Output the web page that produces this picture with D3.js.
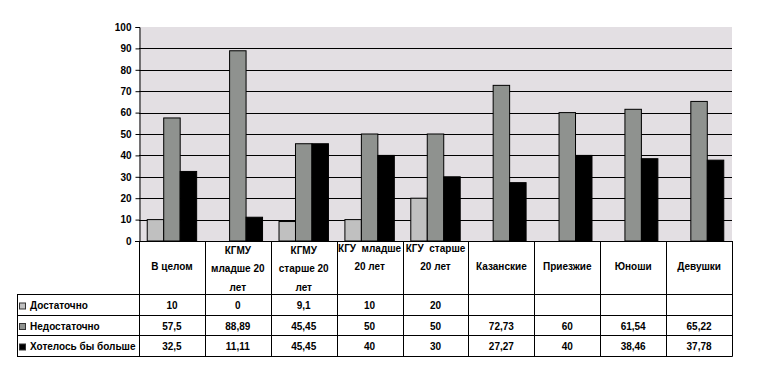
<!DOCTYPE html>
<html>
<head>
<meta charset="utf-8">
<script src="https://cdn.jsdelivr.net/npm/d3@7"></script>
<style>
  body { margin: 0; background: #fff; }
  text { font-family: "Liberation Sans", Arial, sans-serif; font-size: 10px; font-weight: bold; fill: #000; white-space: pre; }
</style>
</head>
<body>
<svg id="chart" width="761" height="366"></svg>
<script>
// categories (table header, split by line)
const categories = [
  ["В целом"],
  ["КГМУ", "младше 20", "лет"],
  ["КГМУ", "старше 20", "лет"],
  ["КГУ  младше", "20 лет"],
  ["КГУ  старше", "20 лет"],
  ["Казанские"],
  ["Приезжие"],
  ["Юноши"],
  ["Девушки"]
];

const seriesNames = ["Достаточно", "Недостаточно", "Хотелось бы больше"];
const seriesColors = ["#c0c0c0", "#8f928f", "#000000"];

const enough = [10, 0, 9.1, 10, 20, null, null, null, null];
const notEnough = [57.5, 88.89, 45.45, 50, 50, 72.73, 60, 61.54, 65.22];
const wantMore = [32.5, 11.11, 45.45, 40, 30, 27.27, 40, 38.46, 37.78];

const yTicks = [0, 10, 20, 30, 40, 50, 60, 70, 80, 90, 100];

const series = [enough, notEnough, wantMore];

const svg = d3.select('#chart');
const margin = { left: 139, right: 29, top: 27, plotBottom: 241 };
const width = 761;

const xScale = d3.scaleBand()
  .domain(d3.range(categories.length))
  .range([margin.left, width - margin.right]);

const yScale = d3.scaleLinear()
  .domain([0, 100])
  .range([margin.plotBottom, margin.top]);

// plot background
svg.append('rect')
  .attr('x', margin.left)
  .attr('y', margin.top)
  .attr('width', xScale.range()[1] - margin.left)
  .attr('height', margin.plotBottom - margin.top)
  .style('fill', '#e3dfe3');

// gridlines
svg.append('g')
  .selectAll('line')
  .data(yTicks.filter(d => d > 0 && d < 100))
  .enter().append('line')
  .attr('x1', margin.left)
  .attr('x2', xScale.range()[1])
  .attr('y1', d => Math.round(yScale(d)) + 0.5)
  .attr('y2', d => Math.round(yScale(d)) + 0.5)
  .style('stroke', '#000')
  .style('stroke-width', 1);

// bars (gap width = one bar, three bars per group)
const barW = xScale.bandwidth() / 4;
series.forEach((vals, si) => {
  svg.append('g')
    .selectAll('rect')
    .data(vals.map((v, i) => ({ v: v, i: i })).filter(d => d.v !== null && d.v > 0))
    .enter().append('rect')
    .attr('x', d => xScale(d.i) + barW / 2 + si * barW)
    .attr('y', d => yScale(d.v))
    .attr('width', barW)
    .attr('height', d => yScale(0) - yScale(d.v))
    .style('fill', seriesColors[si])
    .style('stroke', '#000')
    .style('stroke-width', 1);
});

// y axis
const yAxis = d3.axisLeft(yScale)
  .tickValues(yTicks)
  .tickSize(4)
  .tickPadding(4)
  .tickFormat(d3.format('d'));

const yg = svg.append('g')
  .attr('transform', `translate(${margin.left + 0.5},0)`)
  .call(yAxis);
yg.select('.domain').style('stroke', '#000');
yg.selectAll('.tick line').style('stroke', '#000');
yg.selectAll('.tick text')
  .style('font-family', '"Liberation Sans", Arial, sans-serif')
  .style('font-size', '10px')
  .style('font-weight', 'bold');

// x axis line (top of table)
svg.append('line')
  .attr('x1', margin.left - 4)
  .attr('x2', xScale.range()[1])
  .attr('y1', margin.plotBottom + 0.5)
  .attr('y2', margin.plotBottom + 0.5)
  .style('stroke', '#000');

// data table
const rowTop = [294, 315, 335, 356];
const tableLeft = 17;
const tableRight = xScale.range()[1];
const tbl = svg.append('g').style('stroke', '#000').style('stroke-width', 1);

// vertical lines of the category columns
tbl.selectAll('.vline')
  .data(d3.range(categories.length + 1))
  .enter().append('line')
  .attr('x1', d => Math.round(margin.left + d * xScale.bandwidth()) + 0.5)
  .attr('x2', d => Math.round(margin.left + d * xScale.bandwidth()) + 0.5)
  .attr('y1', margin.plotBottom)
  .attr('y2', rowTop[3] + 0.5);

// legend column left border
tbl.append('line')
  .attr('x1', tableLeft + 0.5).attr('x2', tableLeft + 0.5)
  .attr('y1', rowTop[0]).attr('y2', rowTop[3] + 0.5);

// horizontal row lines
tbl.selectAll('.hline')
  .data(rowTop)
  .enter().append('line')
  .attr('x1', tableLeft)
  .attr('x2', tableRight + 0.5)
  .attr('y1', d => d + 0.5)
  .attr('y2', d => d + 0.5);

// header labels
const lineY3 = [254, 272, 291];
const lineY2 = [252, 270];
categories.forEach((lines, i) => {
  const cx = xScale(i) + xScale.bandwidth() / 2;
  const t = svg.append('text')
    .attr('text-anchor', 'middle')
    .attr('x', cx);
  lines.forEach((ln, k) => {
    const y = lines.length === 1 ? 270 : (lines.length === 2 ? lineY2[k] : lineY3[k]);
    t.append('tspan').attr('x', cx).attr('y', y).text(ln);
  });
});

// rows: legend key + values
const fmt = v => v === null ? '' : String(v).replace('.', ',');
series.forEach((vals, si) => {
  const yMid = (rowTop[si] + rowTop[si + 1]) / 2 + 1;
  svg.append('rect')
    .attr('x', 19.5)
    .attr('y', yMid - 2.5)
    .attr('width', 6)
    .attr('height', 6)
    .style('fill', seriesColors[si])
    .style('stroke', '#333');
  svg.append('text')
    .attr('x', 30)
    .attr('y', yMid)
    .attr('dy', '0.35em')
    .text(seriesNames[si]);
  svg.append('g')
    .selectAll('text')
    .data(vals)
    .enter().append('text')
    .attr('text-anchor', 'middle')
    .attr('x', (d, i) => xScale(i) + xScale.bandwidth() / 2)
    .attr('y', yMid)
    .attr('dy', '0.35em')
    .text(d => fmt(d));
});
</script>
</body>
</html>
